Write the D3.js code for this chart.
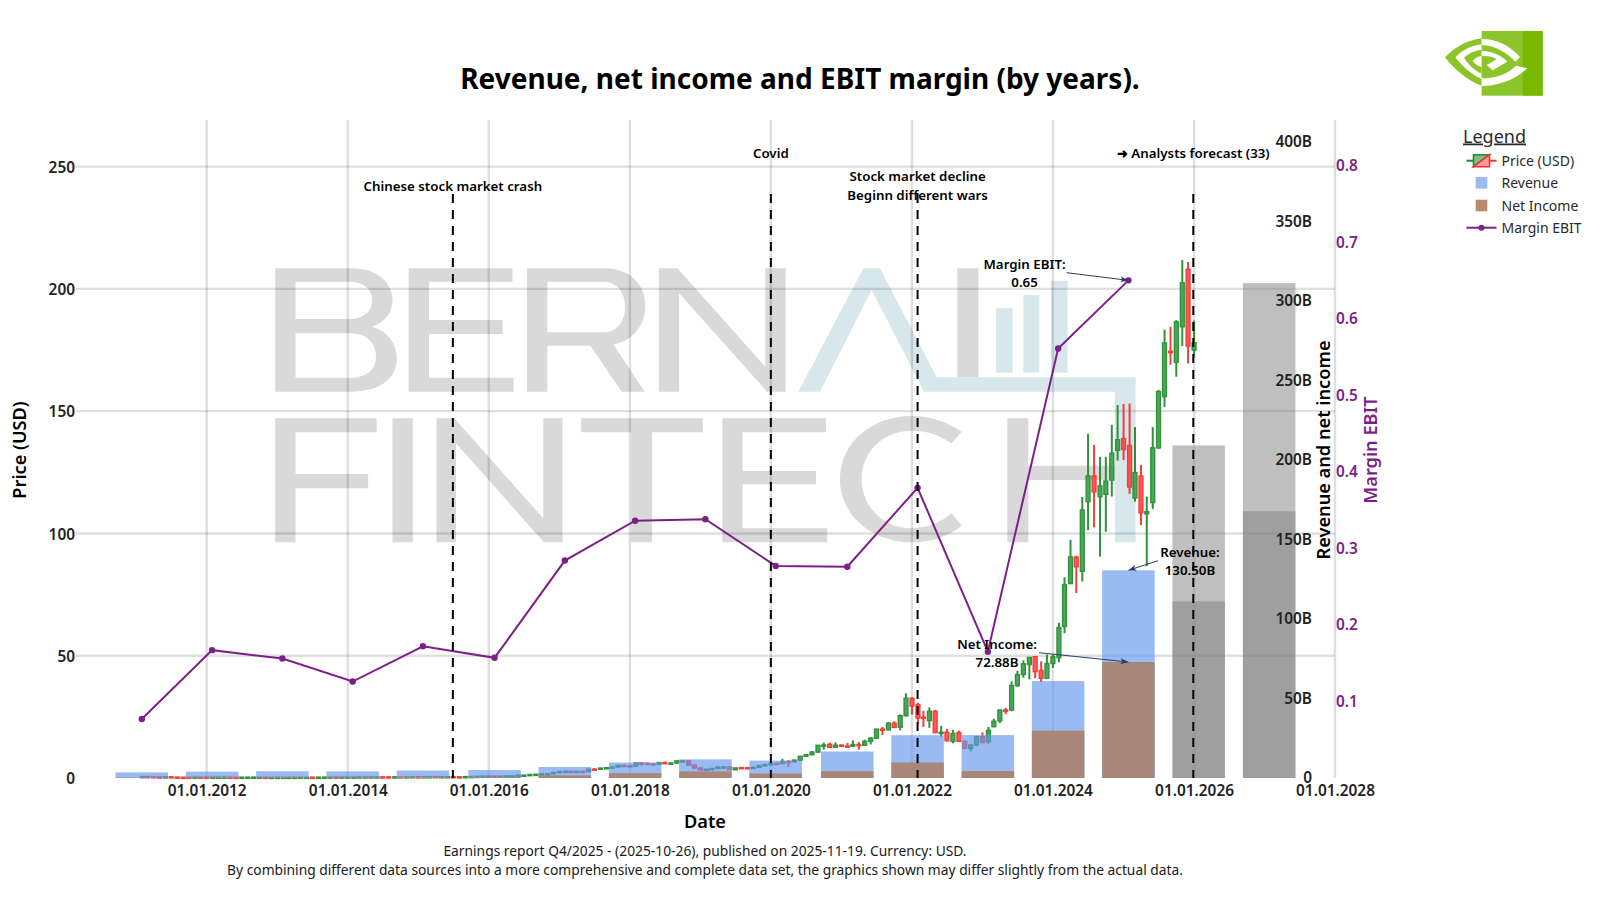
<!DOCTYPE html>
<html>
<head>
<meta charset="utf-8">
<script src="https://cdn.jsdelivr.net/npm/d3@7/dist/d3.min.js"></script>
<style>
  html, body { margin: 0; padding: 0; background: #fff; }
  svg { display: block; font-family: "Noto Sans", sans-serif; }
  .tick line, .domain { display: none; }
</style>
</head>
<body>
<svg id="chart" width="1600" height="900"></svg>
<script>
// Fiscal-year figures, billions of USD (last two years are analyst forecasts)
const fiscalYearEnds = ["2011-01-30","2012-01-29","2013-01-27","2014-01-26","2015-01-25","2016-01-31","2017-01-29","2018-01-28","2019-01-27","2020-01-26","2021-01-31","2022-01-30","2023-01-29","2024-01-28","2025-01-26","2026-01-25","2027-01-25"];
const revenue   = [3.54,4.0,4.28,4.13,4.68,5.01,6.91,9.71,11.72,10.92,16.68,26.91,26.97,60.92,130.5,209,311];
const netIncome = [0.25,0.58,0.56,0.44,0.63,0.61,1.67,3.05,4.14,2.80,4.33,9.75,4.37,29.76,72.88,111,167.6];
const marginEbit = [0.077,0.167,0.156,0.126,0.172,0.157,0.284,0.336,0.338,0.277,0.276,0.379,0.165,0.561,0.65];
const forecastFrom = 15;

// Monthly price candles, USD, January 2011 to December 2025
const priceOpen = [
  .56,.60,.56,.46,.39,.50,.40,.33,.32,.31,.39,.38,
  .35,.37,.38,.38,.32,.31,.35,.36,.35,.33,.30,.30,
  .31,.31,.32,.32,.34,.36,.35,.35,.37,.39,.38,.40,
  .40,.40,.45,.45,.46,.47,.46,.44,.48,.46,.49,.52,
  .50,.52,.57,.52,.55,.56,.50,.49,.57,.62,.71,.80,
  .81,.73,.78,.89,.89,1.16,1.18,1.43,1.53,1.71,1.74,2.30,
  2.67,2.73,2.53,2.72,2.60,3.65,3.61,4.06,4.21,4.47,5.17,5.01,
  4.84,6.14,6.04,5.79,5.62,6.31,5.92,6.12,7.02,7.03,5.27,4.09,
  3.34,3.59,3.85,4.49,4.52,3.39,4.25,4.22,4.19,4.35,5.03,5.42,
  5.97,5.91,6.75,6.59,7.31,8.88,9.50,10.61,13.38,13.80,12.60,13.40,
  13.10,13.00,13.70,13.40,15.00,16.30,20.00,19.70,22.40,20.80,25.50,32.60,
  30.00,24.90,23.50,27.30,18.30,18.70,15.00,18.60,15.00,12.10,13.50,16.90,
  14.90,21.00,23.40,27.80,27.80,37.80,42.30,46.40,49.60,44.00,40.80,46.80,
  49.20,62.00,79.50,90.30,84.50,113.00,123.50,115.00,116.00,121.80,134.00,138.80,
  136.00,114.50,123.50,108.00,112.60,135.00,156.00,174.50,170.00,184.50,208.00,175.00
];
const priceHigh = [
  .63,.65,.58,.47,.52,.50,.42,.35,.36,.42,.40,.39,
  .38,.40,.39,.38,.33,.36,.37,.38,.37,.34,.31,.32,
  .33,.33,.33,.35,.38,.38,.37,.38,.40,.40,.41,.41,
  .41,.46,.47,.47,.48,.48,.48,.49,.49,.50,.53,.53,
  .53,.58,.58,.57,.58,.57,.52,.58,.64,.73,.82,.85,
  .83,.80,.90,.94,1.18,1.21,1.46,1.58,1.71,1.80,2.33,2.92,
  3.00,2.90,2.80,2.80,3.62,3.98,4.16,4.32,4.80,5.20,5.40,5.13,
  6.17,6.20,6.20,6.05,6.50,6.72,6.35,7.18,7.22,7.15,5.42,4.30,
  3.80,4.20,4.80,4.85,4.55,4.15,4.45,4.40,4.60,5.20,5.60,6.00,
  6.30,7.80,7.30,7.50,9.00,9.80,11.00,13.50,14.50,14.45,14.60,13.80,
  14.30,15.40,14.70,15.70,16.80,20.00,20.90,22.90,23.20,26.00,34.60,33.00,
  30.80,27.50,28.90,27.80,21.30,20.10,19.70,19.40,14.00,14.00,17.30,18.70,
  20.90,24.20,27.90,28.70,39.50,43.90,48.10,49.50,49.90,47.70,50.50,50.50,
  63.50,82.10,97.40,90.90,114.90,140.80,136.20,131.30,131.30,144.40,152.50,152.90,
  153.10,143.50,128.00,115.10,143.50,158.70,183.30,184.50,187.30,211.80,211.00,187.00
];
const priceLow = [
  .54,.54,.45,.38,.38,.39,.30,.28,.30,.29,.36,.34,
  .34,.36,.36,.31,.28,.30,.32,.33,.33,.29,.28,.29,
  .31,.31,.31,.31,.34,.34,.34,.34,.36,.37,.37,.39,
  .38,.39,.43,.44,.45,.45,.44,.43,.45,.42,.47,.48,
  .48,.51,.51,.50,.53,.49,.47,.46,.54,.59,.68,.76,
  .62,.60,.76,.85,.88,1.10,1.14,1.41,1.50,1.66,1.65,2.23,
  2.50,2.40,2.40,2.50,2.50,3.39,3.48,3.95,4.00,4.45,4.85,4.60,
  4.83,5.00,5.20,5.30,5.55,5.80,5.90,6.05,6.75,4.90,3.60,3.20,
  3.15,3.45,3.80,4.45,3.35,3.35,4.00,3.95,4.10,4.25,5.00,5.30,
  5.80,5.80,4.50,6.30,7.10,8.80,9.50,10.30,11.60,12.40,12.50,12.90,
  12.60,12.80,11.60,13.30,13.70,16.00,17.60,19.50,20.40,19.50,25.10,25.90,
  22.20,20.90,20.50,18.50,16.90,15.00,14.20,14.90,11.90,10.80,13.10,14.10,
  14.00,20.70,22.50,26.10,27.30,37.30,41.00,40.30,40.80,39.20,40.70,45.00,
  47.30,59.20,79.30,75.60,80.40,101.40,102.50,90.50,100.70,115.10,129.80,130.00,
  116.20,113.00,103.40,86.60,110.00,134.50,151.70,169.00,164.10,176.60,169.50,172.00
];
const priceClose = [
  .60,.56,.46,.39,.50,.40,.31,.32,.31,.39,.38,.35,
  .37,.38,.38,.32,.31,.35,.36,.37,.35,.30,.30,.31,
  .31,.32,.32,.34,.36,.35,.36,.37,.39,.38,.40,.40,
  .40,.45,.45,.46,.47,.46,.44,.48,.46,.49,.52,.50,
  .52,.57,.52,.55,.55,.50,.49,.57,.62,.71,.80,.82,
  .73,.78,.89,.89,1.16,1.18,1.43,1.53,1.71,1.74,2.30,2.67,
  2.73,2.53,2.72,2.60,3.60,3.61,4.06,4.21,4.47,5.17,5.01,4.84,
  6.14,6.04,5.79,5.62,6.31,5.92,6.12,7.02,7.03,5.27,4.09,3.34,
  3.59,3.85,4.49,4.52,3.39,4.11,4.22,4.19,4.35,5.03,5.42,5.88,
  5.91,6.75,6.59,7.31,8.88,9.50,10.61,13.38,13.50,12.50,13.40,13.05,
  13.00,13.70,13.30,15.00,16.30,20.00,19.50,22.40,20.70,25.50,32.60,29.40,
  24.50,24.40,27.30,18.50,18.70,15.20,18.20,15.00,12.10,13.50,16.90,14.60,
  19.50,23.20,27.80,27.70,37.80,42.30,46.70,49.30,43.50,40.80,46.80,49.50,
  61.50,79.10,90.40,86.40,109.60,123.50,117.00,119.40,121.40,132.80,138.30,134.30,
  119.00,124.90,108.40,108.90,135.00,158.00,177.90,173.90,186.50,202.50,176.60,178.00
];

const priceTicks = [0,50,100,150,200,250];
const revenueTicks = [0,50,100,150,200,250,300,350,400];
const marginTicks = [0.1,0.2,0.3,0.4,0.5,0.6,0.7,0.8];
const dateTicks = ["2012-01-01","2014-01-01","2016-01-01","2018-01-01","2020-01-01","2022-01-01","2024-01-01","2026-01-01","2028-01-01"];

// Market events marked with dashed verticals
const eventDates = ["2015-06-29","2020-01-01","2022-01-30","2025-12-28"];
const eventLabels = [["Chinese stock market crash"],["Covid"],["Stock market decline","Beginn different wars"],["➜ Analysts forecast (33)"]];

const legendItems = ["Price (USD)","Revenue","Net Income","Margin EBIT"];
const footerLines = [
  "Earnings report Q4/2025 - (2025-10-26), published on 2025-11-19. Currency: USD.",
  "By combining different data sources into a more comprehensive and complete data set, the graphics shown may differ slightly from the actual data."
];

const PURPLE = "#7d1f88";
const parse = d3.utcParse("%Y-%m-%d");
const svg = d3.select("#chart");

const plot = { left: 76, right: 1335, top: 120, bottom: 778 };
const x = d3.scaleUtc().domain([parse("2010-02-23"), parse("2028-01-01")]).range([plot.left, plot.right]);
const yPrice = d3.scaleLinear().domain([0,250]).range([plot.bottom, 166.6]);
const yRevenue = d3.scaleLinear().domain([0,400]).range([plot.bottom, 141.5]);
const yMargin = d3.scaleLinear().domain([0,0.8]).range([plot.bottom, 165.5]);

// Brand watermark behind the plot
const wm = svg.append("g").attr("class","watermark");
const wmLeft = wm.append("g").attr("transform","translate(260,255) scale(0.338,0.3333)").attr("fill","#d9d9d9").attr("fill-rule","evenodd");
[
  "M45,40H270C350,40 392,85 392,135C392,175 365,205 330,215C375,225 405,265 405,310C405,375 350,410 270,410H45Z M105,80V192H265C310,192 332,165 332,135C332,105 310,80 265,80Z M105,235V368H265C315,368 343,345 343,305C343,262 315,235 265,235Z",
  "M440,40H747V80H500V195H718V237H500V368H750V410H440Z",
  "M790,40H1020C1095,40 1140,90 1140,152C1140,215 1100,258 1045,268L1138,410H1070L978,272H850V410H790Z M850,80V232H1015C1060,232 1080,195 1080,155C1080,110 1055,80 1015,80Z",
  "M1180,410V40H1235L1495,335V40H1555V410H1500L1240,115V410Z",
  "M45,490H345V532H105V657H320V700H105V862H45Z",
  "M392,490H452V862H392Z",
  "M522,862V490H575L838,790V490H895V862H840L580,565V862Z",
  "M950,490H1310V532H1160V862H1098V532H950Z",
  "M1368,490H1675V532H1428V648H1645V688H1428V820H1678V862H1368Z"
].forEach(d => wmLeft.append("path").attr("d", d));
const wmRight = wm.append("g").attr("transform","translate(780,255) scale(0.3333)");
const wmGrey = wmRight.append("g").attr("fill","#d9d9d9");
[
  "M532,40H595V367H532Z",
  "M545,530C500,500 450,483 395,483C280,483 180,560 180,672C180,785 280,862 395,862C450,862 505,845 545,812L515,775C478,805 435,820 395,820C310,820 245,755 245,672C245,590 310,527 395,527C440,527 480,540 515,565Z",
  "M682,490H745V632H1005V675H745V862H682Z"
].forEach(d => wmGrey.append("path").attr("d", d));
const wmBlue = wmRight.append("g").attr("fill","#d7e7ec");
[
  "M55,410L250,40H300L470,367H1067V862H1005V410H432L275,105L120,410Z",
  "M648,160H698V353H648Z",
  "M730,120H778V353H730Z",
  "M813,77H863V353H813Z"
].forEach(d => wmBlue.append("path").attr("d", d));

// Grid
const grid = svg.append("g").attr("stroke","rgba(0,0,0,0.125)").attr("stroke-width",2.4);
grid.selectAll(".gy").data(priceTicks.slice(1)).join("line")
  .attr("x1", plot.left).attr("x2", plot.right)
  .attr("y1", d => yPrice(d)).attr("y2", d => yPrice(d));
grid.selectAll(".gx").data(dateTicks.map(parse)).join("line")
  .attr("x1", d => x(d)).attr("x2", d => x(d))
  .attr("y1", plot.top).attr("y2", plot.bottom);

// Candles, drawn at each month's closing date
const candles = priceOpen.map((o,i) => ({
  date: new Date(Date.UTC(2011, 1 + i, 1)),
  open: o, high: priceHigh[i], low: priceLow[i], close: priceClose[i]
}));
const candleHalf = x(d3.utcDay.offset(parse("2020-01-01"), 10)) - x(parse("2020-01-01"));
const candleG = svg.append("g").selectAll("g").data(candles).join("g").attr("opacity",0.92);
candleG.append("line")
  .attr("x1", d => x(d.date)).attr("x2", d => x(d.date))
  .attr("y1", d => yPrice(d.high)).attr("y2", d => yPrice(d.low))
  .attr("stroke", d => d.close >= d.open ? "#1f8a2c" : "#f42f2f")
  .attr("stroke-width",2);
candleG.append("rect")
  .attr("x", d => x(d.date) - candleHalf)
  .attr("width", candleHalf*2)
  .attr("y", d => yPrice(Math.max(d.open,d.close)))
  .attr("height", d => Math.max(1.2, Math.abs(yPrice(d.open)-yPrice(d.close))))
  .attr("fill", d => d.close >= d.open ? "#3da04a" : "#ff4848")
  .attr("stroke", d => d.close >= d.open ? "#1f8a2c" : "#f42f2f")
  .attr("stroke-width",1.4);

// Revenue and net income bars; forecast years turn grey
const years = fiscalYearEnds.map((s,i) => ({ date: parse(s), revenue: revenue[i], net: netIncome[i], margin: marginEbit[i], forecast: i >= forecastFrom }));
const barSpan = d => [x(d3.utcDay.offset(d.date,-136)), x(d3.utcDay.offset(d.date,136))];
const bars = svg.append("g");
bars.selectAll(".rev").data(years).join("rect")
  .attr("x", d => barSpan(d)[0]).attr("width", d => barSpan(d)[1]-barSpan(d)[0])
  .attr("y", d => yRevenue(d.revenue)).attr("height", d => yRevenue(0)-yRevenue(d.revenue))
  .attr("fill", d => d.forecast ? "#808080" : "#6495ed")
  .attr("fill-opacity", d => d.forecast ? 0.5 : 0.65);
bars.selectAll(".net").data(years).join("rect")
  .attr("x", d => barSpan(d)[0]).attr("width", d => barSpan(d)[1]-barSpan(d)[0])
  .attr("y", d => yRevenue(d.net)).attr("height", d => yRevenue(0)-yRevenue(d.net))
  .attr("fill", d => d.forecast ? "#808080" : "#a98574")
  .attr("fill-opacity", d => d.forecast ? 0.5 : 0.96);

// EBIT margin line
const marginYears = years.filter(d => d.margin !== undefined);
svg.append("path").datum(marginYears)
  .attr("fill","none").attr("stroke",PURPLE).attr("stroke-width",2)
  .attr("d", d3.line().x(d => x(d.date)).y(d => yMargin(d.margin)));
svg.append("g").selectAll("circle").data(marginYears).join("circle")
  .attr("cx", d => x(d.date)).attr("cy", d => yMargin(d.margin)).attr("r",3.2).attr("fill",PURPLE);

// Event markers
svg.append("g").selectAll("line").data(eventDates.map(parse)).join("line")
  .attr("x1", d => x(d)).attr("x2", d => x(d))
  .attr("y1", 194).attr("y2", plot.bottom)
  .attr("stroke","#000").attr("stroke-width",2).attr("stroke-dasharray","9,7");
const eventLabelY = [187, 154, 177.5, 154];
eventLabels.forEach((lines,i) => {
  lines.forEach((t,j) => {
    svg.append("text").text(t)
      .attr("x", x(parse(eventDates[i]))).attr("y", eventLabelY[i] + j*18.5)
      .attr("text-anchor","middle").attr("dominant-baseline","middle")
      .attr("font-size",13.3).attr("font-weight",600).attr("fill","#000");
  });
});

// Callouts for the latest reported year
const latest = years[forecastFrom-1];
const callouts = [
  { lines:["Margin EBIT:", latest.margin.toFixed(2)], tx:1024.6, ty:265, from:[1066.7,272.7], to:[x(latest.date), yMargin(latest.margin)] },
  { lines:["Revenue:", latest.revenue.toFixed(2)+"B"], tx:1190, ty:553, from:[1158,560.7], to:[x(latest.date), yRevenue(latest.revenue)] },
  { lines:["Net Income:", latest.net.toFixed(2)+"B"], tx:997, ty:645, from:[1039,652.7], to:[x(latest.date), yRevenue(latest.net)] }
];
svg.append("defs").append("marker").attr("id","arrow")
  .attr("viewBox","0 0 8 6").attr("refX",8).attr("refY",3)
  .attr("markerWidth",8).attr("markerHeight",6).attr("markerUnits","userSpaceOnUse").attr("orient","auto")
  .append("path").attr("d","M0,0L8,3L0,6L2,3Z").attr("fill","#2a3f5f");
callouts.forEach(c => {
  svg.append("line").attr("x1",c.from[0]).attr("y1",c.from[1]).attr("x2",c.to[0]).attr("y2",c.to[1])
    .attr("stroke","#2a3f5f").attr("stroke-width",1).attr("marker-end","url(#arrow)");
  c.lines.forEach((t,j) => {
    svg.append("text").text(t).attr("x",c.tx).attr("y",c.ty+j*18.5)
      .attr("text-anchor","middle").attr("dominant-baseline","middle")
      .attr("font-size",13.3).attr("font-weight",600).attr("fill","#000");
  });
});

// Axes
const styleAxis = (g, color, weight) => g.selectAll("text")
  .attr("font-family",'"Noto Sans", sans-serif').attr("font-size",15.4).attr("font-weight",weight).attr("fill",color);
svg.append("g").attr("transform",`translate(${plot.left},0.7)`)
  .call(d3.axisLeft(yPrice).tickValues(priceTicks).tickSize(0).tickPadding(1))
  .call(styleAxis,"#222",600);
svg.append("g").attr("transform","translate(1312,0)")
  .call(d3.axisLeft(yRevenue).tickValues(revenueTicks).tickSize(0).tickPadding(0).tickFormat(d => d === 0 ? "0" : d + "B"))
  .call(styleAxis,"#222",600);
svg.append("g").attr("transform",`translate(${plot.right},0)`)
  .call(d3.axisRight(yMargin).tickValues(marginTicks).tickSize(0).tickPadding(1).tickFormat(d3.format(".1f")))
  .call(styleAxis,PURPLE,600);
svg.append("g").attr("transform",`translate(0,${plot.bottom})`)
  .call(d3.axisBottom(x).tickValues(dateTicks.map(parse)).tickSize(0).tickPadding(7).tickFormat(d3.utcFormat("%d.%m.%Y")))
  .call(styleAxis,"#222",600);

// Titles
svg.append("text").text("Revenue, net income and EBIT margin (by years).")
  .attr("x",800).attr("y",81.6).attr("text-anchor","middle").attr("dominant-baseline","middle")
  .attr("font-size",28).attr("font-weight",700).attr("fill","#000");
const axisTitle = (t,px,py,rot,color) => svg.append("text").text(t)
  .attr("transform",`translate(${px},${py}) rotate(${rot})`)
  .attr("text-anchor","middle").attr("dominant-baseline","middle")
  .attr("font-size",18.2).attr("font-weight",600).attr("fill",color);
axisTitle("Price (USD)",21.5,450,-90,"#000");
axisTitle("Date",705,823,0,"#000");
axisTitle("Revenue and net income",1325,450,-90,"#000");
axisTitle("Margin EBIT",1372,450,-90,PURPLE);

footerLines.forEach((t,i) => svg.append("text").text(t)
  .attr("x",705).attr("y",852+i*19).attr("text-anchor","middle").attr("dominant-baseline","middle")
  .attr("font-size",13.8).attr("fill","#1a1a1a"));

// Legend
const legend = svg.append("g");
legend.append("text").text("Legend").attr("x",1463).attr("y",142.5)
  .attr("font-size",18).attr("fill","#2a2a2a").attr("text-decoration","underline");
const legendY = [160.7,183,205.7,227.7];
legendItems.forEach((t,i) => legend.append("text").text(t)
  .attr("x",1501.5).attr("y",legendY[i]+1.4).attr("dominant-baseline","middle")
  .attr("font-size",14).attr("fill","#2a2a2a"));
const icon = legend.append("g").attr("transform",`translate(1481.5,${legendY[0]})`);
icon.append("line").attr("x1",-15).attr("x2",-8).attr("stroke","#1f8a2c").attr("stroke-width",2);
icon.append("line").attr("x1",8).attr("x2",15).attr("stroke","#f42f2f").attr("stroke-width",2);
icon.append("path").attr("d","M-8,-6H8L-8,6Z").attr("fill","#7fbf7f").attr("stroke","#1f8a2c").attr("stroke-width",1.6);
icon.append("path").attr("d","M8,-6V6H-8Z").attr("fill","#ff9a9a").attr("stroke","#f42f2f").attr("stroke-width",1.6);
legend.append("rect").attr("x",1475.7).attr("y",legendY[1]-6).attr("width",11.6).attr("height",11.6).attr("fill","#9abaf3");
legend.append("rect").attr("x",1475.7).attr("y",legendY[2]-6).attr("width",11.6).attr("height",11.6).attr("fill","#b98b6c");
legend.append("line").attr("x1",1466.5).attr("x2",1496.5).attr("y1",legendY[3]).attr("y2",legendY[3]).attr("stroke",PURPLE).attr("stroke-width",2);
legend.append("circle").attr("cx",1481.5).attr("cy",legendY[3]).attr("r",3).attr("fill",PURPLE);

// Company logo
const logo = svg.append("g").attr("transform","translate(1440,25) scale(0.3333)");
logo.append("rect").attr("x",125).attr("y",18).attr("width",183).attr("height",194).attr("fill","#8cc52a");
logo.append("rect").attr("x",248).attr("y",18).attr("width",60).attr("height",194).attr("fill","#76b900");
logo.append("path").attr("fill","#8cc52a").attr("fill-rule","evenodd")
  .attr("d","M125,40C80,45 40,70 15,97C40,130 85,170 125,182Z M125,58C90,62 65,78 46,97C65,122 95,150 125,162V146C105,138 85,118 72,98C85,85 105,76 125,74Z M125,92C112,94 104,100 98,108C105,118 114,124 125,126Z");
logo.append("path").attr("fill","#fff")
  .attr("d","M125,42C172,42 212,63 240,97L226,110C200,82 165,62 125,60Z M125,78C160,78 190,96 202,110L158,136L140,120L170,103C155,94 140,92 125,94Z M125,160C170,160 205,145 228,122L262,130C225,165 175,183 125,183Z");
</script>
</body>
</html>
